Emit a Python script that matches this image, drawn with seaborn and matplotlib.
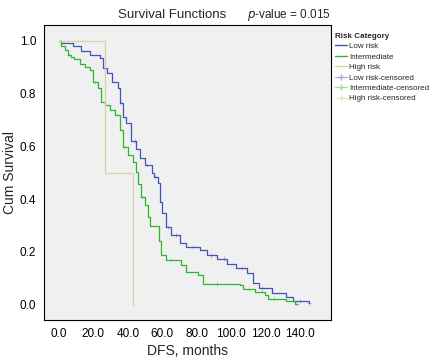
import numpy as np
import pandas as pd
import matplotlib
matplotlib.use('Agg')
import matplotlib.pyplot as plt
from matplotlib.lines import Line2D
import seaborn as sns

# Kaplan-Meier steps
low_t = [0, 1, 8, 13, 18, 23.7, 25.4, 27.7, 30.5, 34, 35.3, 37, 39, 42, 45, 47, 50, 53.8, 55, 57.6,
         58.5, 60, 62.4, 65.3, 70, 74, 81.8, 85.7, 91.5, 97.3, 103, 109, 112.7, 116, 123.5, 132, 136, 145]
low_s = [1.0, 0.99, 0.98, 0.96, 0.945, 0.933, 0.896, 0.877, 0.844, 0.82, 0.763, 0.71, 0.69, 0.62, 0.59, 0.555, 0.53, 0.50, 0.484, 0.46,
         0.39, 0.347, 0.295, 0.263, 0.232, 0.219, 0.206, 0.187, 0.175, 0.156, 0.138, 0.119, 0.081, 0.062, 0.043, 0.029, 0.015, 0.006]

mid_t = [0, 1, 3.3, 5.2, 7, 9, 12, 15, 17.8, 19.8, 22.7, 24.6, 26.6, 29.5, 32.4, 35.3, 37, 40, 43, 45,
         46, 47.9, 49.8, 51.8, 52.7, 58, 59.4, 62, 71, 74, 80.8, 83.7, 105, 107, 113.8, 119.6, 121.5, 132, 137, 138]
mid_s = [1.0, 0.98, 0.964, 0.945, 0.94, 0.932, 0.913, 0.90, 0.888, 0.844, 0.819, 0.768, 0.755, 0.737, 0.718, 0.66, 0.598, 0.566, 0.54, 0.503,
         0.459, 0.408, 0.377, 0.333, 0.30, 0.24, 0.19, 0.17, 0.15, 0.124, 0.112, 0.08, 0.074, 0.059, 0.047, 0.036, 0.023, 0.015, 0.003, 0.003]

high_t = [0, 26.7, 43]
high_s = [1.0, 0.5, 0.0]

# censored cases
low_ct = [27, 36, 44, 51, 56, 63, 68, 78, 88, 96, 106, 118, 140, 145]
low_cs = [0.896, 0.763, 0.62, 0.53, 0.484, 0.295, 0.263, 0.219, 0.187, 0.175, 0.138, 0.062, 0.015, 0.006]
mid_ct = [6, 21, 38, 48, 65, 92, 110, 125, 138]
mid_cs = [0.945, 0.844, 0.598, 0.408, 0.17, 0.08, 0.059, 0.023, 0.003]

groups = ['Low risk', 'Intermediate', 'High risk']
colors = {'Low risk': '#3f55b8', 'Intermediate': '#2fb62f', 'High risk': '#d8d3a6'}
light = {'Low risk': '#a3addf', 'Intermediate': '#9edc9e', 'High risk': '#e6e2c4'}

curves = pd.concat([
    pd.DataFrame({'t': low_t, 'S': low_s, 'group': 'Low risk'}),
    pd.DataFrame({'t': mid_t, 'S': mid_s, 'group': 'Intermediate'}),
    pd.DataFrame({'t': high_t, 'S': high_s, 'group': 'High risk'}),
])
cens = pd.concat([
    pd.DataFrame({'t': low_ct, 'S': low_cs, 'group': 'Low risk'}),
    pd.DataFrame({'t': mid_ct, 'S': mid_cs, 'group': 'Intermediate'}),
])

sns.set_style('white')
plt.rcParams['font.family'] = ['Liberation Sans', 'DejaVu Sans']

fig = plt.figure(figsize=(4.44, 3.6), dpi=100)
ax = fig.add_axes([0.099, 0.111, 0.647, 0.82])
ax.set_facecolor('#f0f0f0')

sns.lineplot(data=curves, x='t', y='S', hue='group', palette=colors, hue_order=groups,
             drawstyle='steps-post', estimator=None, sort=False, linewidth=0.9, ax=ax, legend=False)
sns.scatterplot(data=cens, x='t', y='S', hue='group', palette=light, hue_order=groups,
                marker='+', s=10, linewidth=0.6, ax=ax, legend=False, zorder=1)

ax.set_xlim(-8.7, 158)
ax.set_ylim(-0.058, 1.06)
ax.set_xticks(np.arange(0, 141, 20))
ax.set_xticklabels([f'{v:.1f}' for v in np.arange(0, 141, 20)])
ax.set_yticks(np.arange(0, 1.01, 0.2))
ax.set_yticklabels([f'{v:.1f}' for v in np.arange(0, 1.01, 0.2)])
ax.tick_params(axis='both', direction='out', length=3.5, width=0.8, labelsize=8.5, pad=2, colors='black')
for sp in ax.spines.values():
    sp.set_color('black')
    sp.set_linewidth(0.8)
ax.set_xlabel('DFS, months', fontsize=10, labelpad=3)
ax.set_ylabel('Cum Survival', fontsize=10, labelpad=2)

fig.text(0.387, 0.958, 'Survival Functions', ha='center', va='center', fontsize=9.5)
fig.text(0.556, 0.958, '$p$-value = 0.015', ha='left', va='center', fontsize=8.5)

handles = [Line2D([], [], color=colors[g], lw=1) for g in groups]
handles += [Line2D([], [], color=light[g], lw=0.8, marker='+', markersize=5) for g in groups]
labels = groups + [g + '-censored' for g in groups]
leg = fig.legend(handles, labels, title='Risk Category', loc='upper left',
                 bbox_to_anchor=(0.748, 0.918), frameon=False, fontsize=5.8,
                 title_fontsize=5.8, handlelength=1.4, handletextpad=0.3,
                 labelspacing=0.35, borderaxespad=0, alignment='left')
leg.get_title().set_fontweight('bold')

fig.savefig('out.png', dpi=100)
